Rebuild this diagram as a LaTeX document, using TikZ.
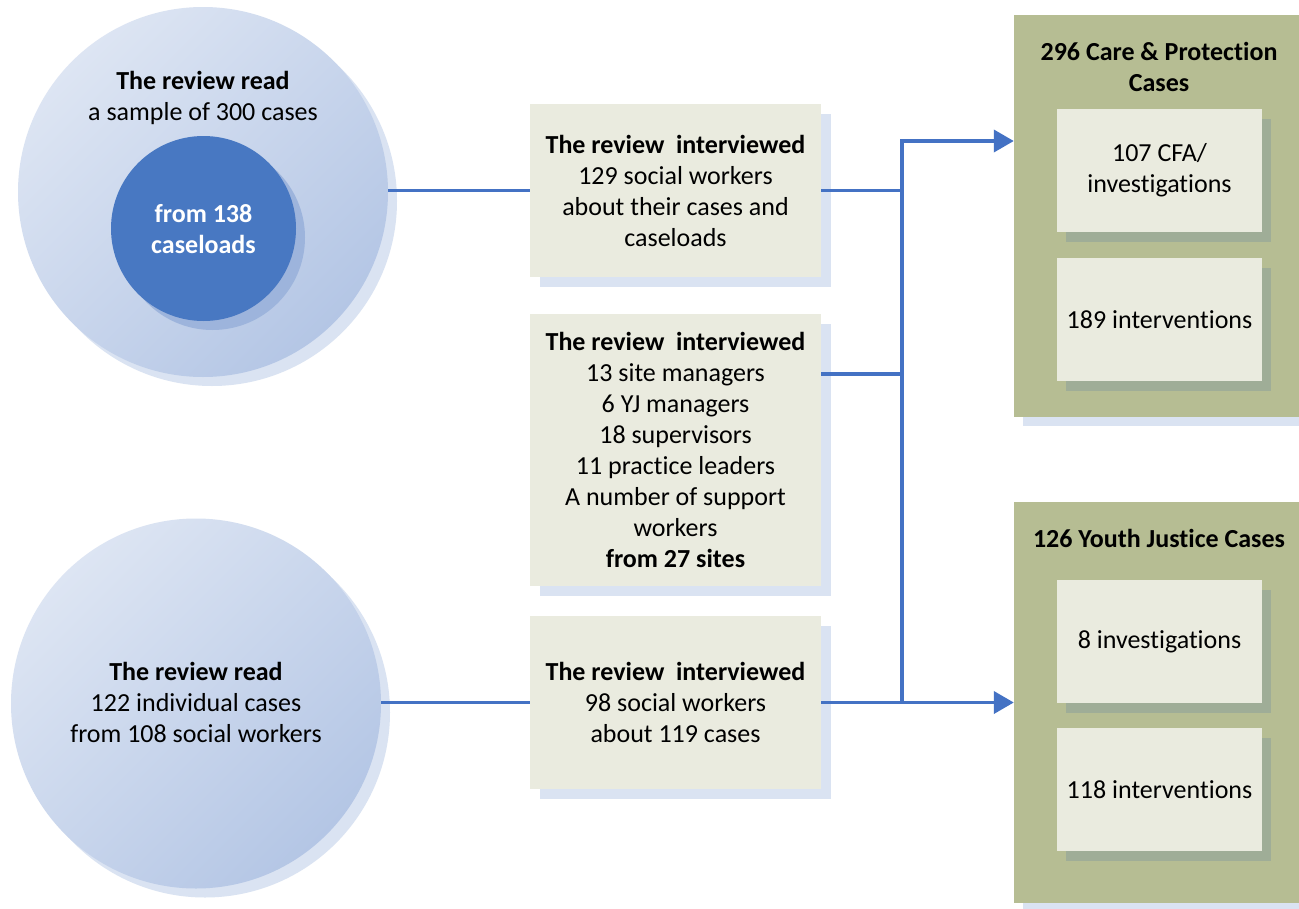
\documentclass[tikz,border=0pt]{standalone}
\usepackage{fontspec}
\setmainfont{Carlito}[RawFeature={-liga;-clig;-calt;-dlig}]
\usetikzlibrary{arrows.meta,shadows}
\definecolor{circlight}{HTML}{DDE5F3}
\definecolor{circdark}{HTML}{B4C6E5}
\definecolor{circshadow}{HTML}{DAE3F2}
\definecolor{innerblue}{HTML}{4878C2}
\definecolor{innershadow}{HTML}{9DB4DC}
\definecolor{boxfill}{HTML}{EAEBDF}
\definecolor{boxshadow}{HTML}{DAE3F2}
\definecolor{olive}{HTML}{B6BD93}
\definecolor{innerboxshadow}{HTML}{9FAD97}
\definecolor{linkblue}{HTML}{4472C4}
\tikzset{
  txt/.style={font=\fontsize{26}{31}\selectfont, align=center, inner sep=0pt},
  bigcircle/.style={circle, minimum size=370pt, inner sep=0pt, draw=none,
    top color=circlight, bottom color=circdark, shading angle=45,
    general shadow={fill=circshadow, shadow xshift=9pt, shadow yshift=-9pt}},
  smallcircle/.style={circle, minimum size=185pt, inner sep=0pt, draw=none, fill=innerblue,
    general shadow={fill=innershadow, shadow xshift=9pt, shadow yshift=-9pt}},
  midbox/.style={rectangle, fill=boxfill, draw=none, minimum width=291pt, inner sep=0pt,
    font=\fontsize{26}{31}\selectfont, align=center,
    general shadow={fill=boxshadow, shadow xshift=10pt, shadow yshift=-10pt}},
  greenbox/.style={rectangle, fill=olive, draw=none, minimum width=290pt, inner sep=0pt,
    general shadow={fill=boxshadow, shadow xshift=9pt, shadow yshift=-9pt}},
  casebox/.style={rectangle, fill=boxfill, draw=none, minimum width=205pt, minimum height=123pt,
    inner sep=0pt, font=\fontsize{26}{31}\selectfont, align=center,
    general shadow={fill=innerboxshadow, shadow xshift=9pt, shadow yshift=-10pt}},
  conn/.style={draw=linkblue, line width=3.8pt},
  arr/.style={conn, -{Triangle[length=20pt,width=22pt]}}
}
\begin{document}
\begin{tikzpicture}[x=1pt,y=-1pt]
\useasboundingbox (0,0) rectangle (1299,908);
\clip (0,0) rectangle (1299,908);
\fill[white] (0,0) rectangle (1299,908);

% left circles
\node[bigcircle] (c1) at (203,192) {};
\node[smallcircle] (c1in) at (203.5,228.5) {};
\node[txt] (c1txt) at (203,98) {\textbf{The review read}\\a sample of 300 cases};
\node[txt, text=white, font=\fontsize{26}{31}\selectfont\bfseries] (c1intxt) at (203.5,229) {from 138\\caseloads};

\node[bigcircle] (c2) at (196,703.5) {};
\node[txt] (c2txt) at (196,702) {\textbf{The review read}\\122 individual cases\\from 108 social workers};

% middle boxes
\node[midbox, minimum height=173pt] (b1) at (675.5,190.5)
  {\textbf{The review\ \ interviewed}\\129 social workers\\about their cases and\\caseloads};
\node[midbox, minimum height=272pt] (b2) at (675.5,450)
  {\textbf{The review\ \ interviewed}\\13 site managers\\6 YJ managers\\18 supervisors\\11 practice leaders\\A number of support\\workers\\\textbf{from 27 sites}};
\node[midbox, minimum height=173pt] (b3) at (675.5,702.5)
  {\textbf{The review\ \ interviewed}\\98 social workers\\about 119 cases};

% right boxes
\node[greenbox, minimum height=402pt] (g1) at (1159,216) {};
\node[txt, font=\fontsize{26}{31}\selectfont\bfseries] (g1t) at (1159,67) {296 Care \& Protection\\Cases};
\node[casebox] (g1a) at (1159.5,170.5) {107 CFA/\\investigations};
\node[casebox] (g1b) at (1159.5,319.5) {189 interventions};

\node[greenbox, minimum height=401pt] (g2) at (1159,702.5) {};
\node[txt, font=\fontsize{26}{31}\selectfont\bfseries] (g2t) at (1159,538) {126 Youth Justice Cases};
\node[casebox] (g2a) at (1159.5,641.5) {8 investigations};
\node[casebox] (g2b) at (1159.5,789.5) {118 interventions};

% connectors
\coordinate (jt) at (902,141);
\coordinate (b2out) at ([yshift=76pt]b2.east);
\draw[conn] (b1.west -| c1.east) -- (b1.west);
\draw[conn] (b3.west -| c2.east) -- (b3.west);
\draw[conn] (b1.east) -- (b1.east -| jt);
\draw[conn] (b2out) -- (b2out -| jt);
\draw[arr] (jt |- b3.east) -- (jt) -- (jt -| g1.west);
\draw[arr] (b3.east) -- (b3.east -| g2.west);
\end{tikzpicture}
\end{document}
